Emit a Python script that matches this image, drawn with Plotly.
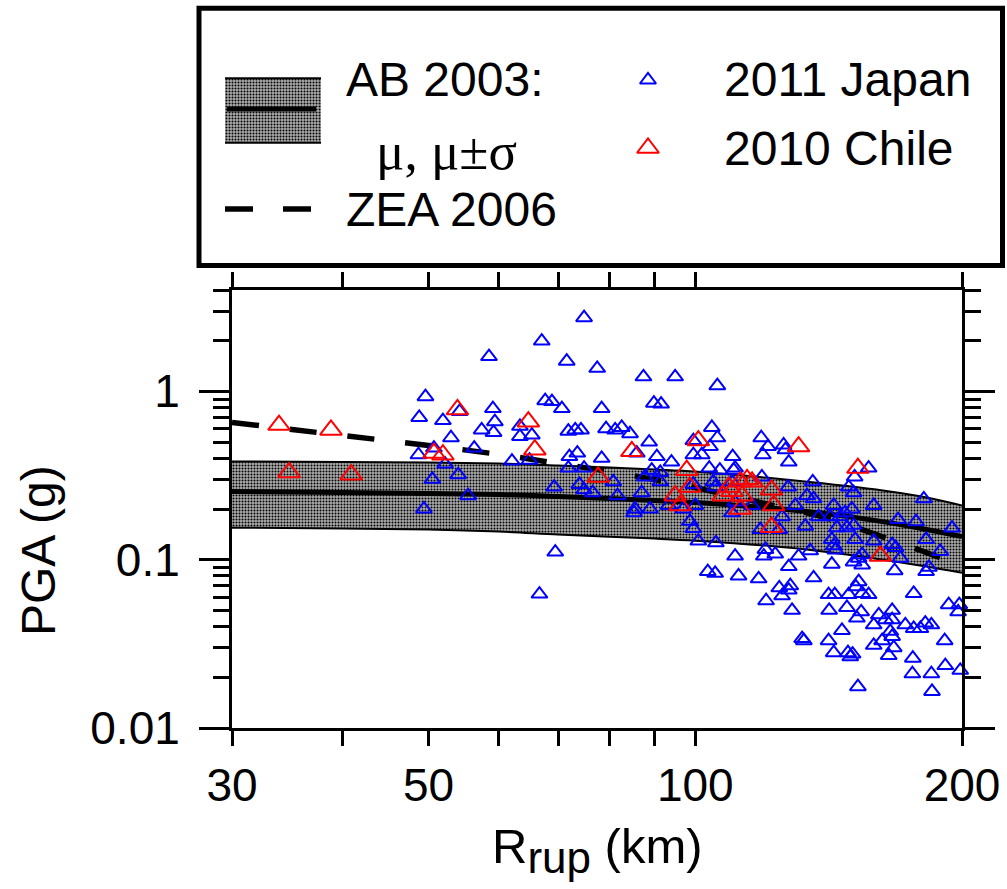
import plotly.graph_objects as go

# ---------------------------------------------------------------------------
# Recorded peak ground accelerations versus rupture distance
# ---------------------------------------------------------------------------
japan_r = [
    49.6, 48.8, 51.9, 54.2, 53.0, 48.7, 50.7, 52.2, 56.3, 54.0, 50.5, 55.4, 49.4,
    74.9, 67.1, 58.5, 71.6, 77.5, 87.4, 94.9, 105.9, 67.7, 68.9, 70.7, 78.4,
    89.8, 91.5, 59.1, 59.4, 59.2, 57.4, 63.4, 63.4, 65.4, 71.9, 73.2, 74.3,
    79.3, 81.2, 82.6, 84.4, 104.4, 105.9, 99.5, 103.9, 88.7, 85.9, 99.5, 101.7,
    62.1, 65.0, 72.1, 73.6, 78.4, 90.5, 94.0, 103.7, 106.6, 71.9, 74.9, 80.8,
    74.0, 76.6, 74.9, 69.3, 81.7, 87.0, 87.7, 91.3, 91.3, 89.3, 99.5, 104.8,
    105.3, 100.0, 88.9, 85.5, 96.9,
    118.7, 120.8, 119.2, 125.8, 126.4, 127.5, 110.2, 110.9, 110.5, 118.9, 156.9,
    151.3, 149.0, 150.9, 127.3, 135.7, 133.7, 136.0, 143.3, 129.7, 181.1, 159.0,
    150.2, 115.9, 110.9, 110.0,
    110.9, 120.0, 119.5, 123.1, 130.8, 134.8, 127.5, 142.6, 111.9, 117.9, 136.0,
    124.4, 128.0, 127.5, 125.3, 120.2, 128.6, 132.6, 132.0, 141.4, 143.3, 148.7,
    149.6, 150.5, 146.4, 141.4, 143.7, 141.6, 148.3, 149.0, 152.9, 151.8, 154.3,
    156.9, 153.9, 152.2, 159.0, 161.1, 163.9, 166.8, 166.8, 166.0, 166.8, 162.5,
    159.0, 167.5, 165.3, 172.6, 176.4, 179.5, 181.8, 184.7, 191.2, 176.0, 191.5,
    199.1, 175.8, 184.7, 185.0, 152.6, 181.1, 193.2, 198.6, 198.0, 176.4, 182.2,
    183.5, 167.9, 152.9, 154.3, 150.9, 169.4, 177.5, 182.2, 189.0, 194.9, 170.4,
    166.8, 168.3, 159.0, 137.8, 142.0, 145.7, 147.6, 150.9, 148.3, 144.5, 151.5,
    142.6, 143.3, 143.9, 133.1, 125.3, 124.4, 118.4, 110.0, 154.3,
    69.5, 66.7, 103.3, 105.3, 100.8, 105.5, 98.6, 99.5, 85.3, 93.3,
]
japan_pga = [
    0.93, 0.70, 0.67, 0.76, 0.53, 0.42, 0.46, 0.37, 0.46, 0.32, 0.30, 0.24, 0.20,
    2.74, 1.99, 1.61, 1.51, 1.37, 1.22, 1.22, 1.08, 0.88, 0.87, 0.79, 0.79,
    0.85, 0.84, 0.79, 0.66, 0.57, 0.59, 0.62, 0.54, 0.55, 0.58, 0.59, 0.59,
    0.60, 0.59, 0.61, 0.56, 0.61, 0.53, 0.51, 0.47, 0.50, 0.43, 0.42, 0.42,
    0.385, 0.39, 0.41, 0.43, 0.40, 0.41, 0.38, 0.35, 0.34, 0.35, 0.35, 0.29,
    0.28, 0.25, 0.26, 0.27, 0.24, 0.25, 0.31, 0.33, 0.29, 0.34, 0.28, 0.29,
    0.27, 0.21, 0.20, 0.20, 0.20,
    0.53, 0.47, 0.42, 0.48, 0.45, 0.38, 0.41, 0.35, 0.34, 0.31, 0.35,
    0.31, 0.27, 0.25, 0.27, 0.29, 0.24, 0.23, 0.21, 0.21, 0.23, 0.21,
    0.20, 0.21, 0.22, 0.29,
    0.105, 0.115, 0.105, 0.108, 0.105, 0.113, 0.091, 0.094, 0.080, 0.077, 0.078,
    0.068, 0.070, 0.066, 0.061, 0.057, 0.050, 0.033, 0.034, 0.033, 0.028, 0.028,
    0.0265, 0.0275, 0.038, 0.062, 0.062, 0.050, 0.052, 0.062, 0.074, 0.069, 0.063,
    0.062, 0.049, 0.045, 0.041, 0.047, 0.044, 0.050, 0.044, 0.0375, 0.035, 0.033,
    0.031, 0.030, 0.027, 0.041, 0.039, 0.039, 0.042, 0.041, 0.033, 0.026, 0.0235,
    0.022, 0.021, 0.021, 0.0165, 0.0176, 0.0099, 0.054, 0.054, 0.049, 0.063, 0.085,
    0.090, 0.086, 0.102, 0.093, 0.097, 0.173, 0.168, 0.132, 0.112, 0.154, 0.102,
    0.123, 0.118, 0.129, 0.18, 0.18, 0.18, 0.19, 0.16, 0.155, 0.155, 0.132,
    0.132, 0.121, 0.114, 0.158, 0.18, 0.151, 0.151, 0.19, 0.107,
    0.111, 0.0625, 0.085, 0.083, 0.129, 0.126, 0.169, 0.153, 0.19, 0.21,
]
chile_r = [
    33.9, 38.8, 34.8, 40.9, 53.9, 50.7, 51.9,
    64.8, 65.9, 77.7, 84.8, 100.8, 97.8, 98.6, 94.9, 96.1, 107.5,
    130.8, 152.6, 121.9, 112.4, 114.4, 115.9, 110.0, 112.9, 109.1,
    112.4, 122.6, 121.9, 161.8,
]
chile_pga = [
    0.63, 0.59, 0.33, 0.32, 0.78, 0.43, 0.42,
    0.66, 0.45, 0.31, 0.44, 0.51, 0.34, 0.27, 0.24, 0.21, 0.24,
    0.47, 0.35, 0.26, 0.29, 0.30, 0.29, 0.255, 0.24, 0.27,
    0.20, 0.21, 0.156, 0.105,
]

# ---------------------------------------------------------------------------
# Ground-motion prediction curves
# ---------------------------------------------------------------------------
model_r = [30, 40, 50, 60, 70, 80, 90, 100, 120, 140, 160, 180, 200]
ab03_mean = [0.254, 0.2505, 0.247, 0.2436, 0.237, 0.2307, 0.2245, 0.2184,
             0.204, 0.1878, 0.1706, 0.153, 0.137]
ab03_plus = [0.383, 0.3805, 0.378, 0.3727, 0.3626, 0.3528, 0.3433, 0.334,
             0.3076, 0.2835, 0.261, 0.237, 0.2096]
ab03_minus = [0.155, 0.153, 0.151, 0.1468, 0.1409, 0.137, 0.1334, 0.1297,
              0.1212, 0.1116, 0.1014, 0.0921, 0.0837]
zea06 = [0.654, 0.547, 0.477, 0.422, 0.373, 0.334, 0.299, 0.268,
         0.215, 0.178, 0.141, 0.113, 0.092]

# ---------------------------------------------------------------------------
# Axis ticks
# ---------------------------------------------------------------------------
x_tick_vals = [30, 50, 100, 200]
x_tick_text = ["30", "50", "100", "200"]
x_minor_vals = [40, 60, 70, 80, 90]
y_tick_vals = [0.01, 0.1, 1]
y_tick_text = ["0.01", "0.1", "1"]
y_minor_vals = [0.02, 0.03, 0.04, 0.05, 0.06, 0.07, 0.08, 0.09,
                0.2, 0.3, 0.4, 0.5, 0.6, 0.7, 0.8, 0.9, 2, 3, 4]

# ---------------------------------------------------------------------------
# Page geometry (pixels)
# ---------------------------------------------------------------------------
W, H = 1007, 889
FRAME_L, FRAME_R, FRAME_T, FRAME_B = 232, 962, 290, 728

SANS = "Liberation Sans, Arial, sans-serif"
SERIF = "Liberation Serif, Times New Roman, serif"
STIPPLE = dict(shape=".", fgcolor="black", bgcolor="#adadad", size=3, solidity=0.36)

fig = go.Figure()

# --- AB 2003 band: mu - sigma, mu + sigma and the median -------------------
fig.add_trace(go.Scatter(
    x=model_r, y=ab03_minus, mode="lines",
    line=dict(color="black", width=2, shape="spline"),
    hoverinfo="skip"))
fig.add_trace(go.Scatter(
    x=model_r, y=ab03_plus, mode="lines",
    line=dict(color="black", width=2, shape="spline"),
    fill="tonexty", fillcolor="#8c8c8c", fillpattern=STIPPLE,
    hoverinfo="skip"))
fig.add_trace(go.Scatter(
    x=model_r, y=ab03_mean, mode="lines",
    line=dict(color="black", width=5, shape="spline")))

# --- ZEA 2006 ---------------------------------------------------------------
fig.add_trace(go.Scatter(
    x=model_r, y=zea06, mode="lines",
    line=dict(color="black", width=5.5, dash="27px,31px", shape="spline")))

# --- records ----------------------------------------------------------------
fig.add_trace(go.Scatter(
    x=japan_r, y=japan_pga, mode="markers", cliponaxis=False,
    marker=dict(symbol="triangle-up-open", size=14, color="#0000ff",
                line=dict(width=2, color="#0000ff"))))
fig.add_trace(go.Scatter(
    x=chile_r, y=chile_pga, mode="markers", cliponaxis=False,
    marker=dict(symbol="triangle-up-open", size=19, color="#ff0000",
                line=dict(width=2, color="#ff0000"))))

# --- key drawn on a pixel canvas spanning the page ----------------------------
canvas = dict(xaxis="x2", yaxis="y2", hoverinfo="skip", showlegend=False)
fig.add_trace(go.Scatter(
    x=[225, 321, 321, 225, 225], y=[78, 78, 143, 143, 78], mode="lines",
    line=dict(width=0, color="rgba(0,0,0,0)"), fill="toself",
    fillcolor="#8c8c8c", fillpattern=STIPPLE, **canvas))
fig.add_trace(go.Scatter(x=[225, 321], y=[78.3, 78.3], mode="lines",
                         line=dict(color="black", width=2), **canvas))
fig.add_trace(go.Scatter(x=[225, 321], y=[142.8, 142.8], mode="lines",
                         line=dict(color="black", width=2), **canvas))
fig.add_trace(go.Scatter(x=[227, 316], y=[109, 109], mode="lines",
                         line=dict(color="black", width=5), **canvas))
fig.add_trace(go.Scatter(x=[225, 311], y=[209, 209], mode="lines",
                         line=dict(color="black", width=5.5, dash="28px,30px"),
                         **canvas))
fig.add_trace(go.Scatter(x=[648], y=[80], mode="markers",
                         marker=dict(symbol="triangle-up-open", size=14,
                                     color="#0000ff",
                                     line=dict(width=2, color="#0000ff")),
                         **canvas))
fig.add_trace(go.Scatter(x=[648], y=[148], mode="markers",
                         marker=dict(symbol="triangle-up-open", size=19,
                                     color="#ff0000",
                                     line=dict(width=2, color="#ff0000")),
                         **canvas))

for tr in fig.data:
    if tr.showlegend is None:
        tr.showlegend = False

key_texts = [
    ("AB 2003:", 344, 79, SANS, 48),
    ("\u03bc, \u03bc\u00b1\u03c3", 374, 151, SERIF, 53),
    ("ZEA 2006", 344, 209, SANS, 48),
    ("2011 Japan", 722, 79, SANS, 48),
    ("2010 Chile", 722, 148, SANS, 48),
]
annotations = []
for txt, ax_, ay_, fam, fs in key_texts:
    annotations.append(dict(
        text=txt, x=ax_, y=ay_, xref="x2", yref="y2", showarrow=False,
        xanchor="left", yanchor="middle",
        font=dict(family=fam, size=fs, color="black")))

# axis titles
annotations.append(dict(
    text="R<sub><span style='font-size:44px'>rup</span></sub> (km)",
    x=597, y=850, xref="x2", yref="y2",
    showarrow=False, xanchor="center", yanchor="middle",
    font=dict(family=SANS, size=49, color="black")))
annotations.append(dict(
    text="PGA (g)", x=38, y=551, xref="x2", yref="y2", textangle=-90,
    showarrow=False, xanchor="center", yanchor="middle",
    font=dict(family=SANS, size=48, color="black")))

axis_common = dict(
    type="log", showgrid=False, zeroline=False, automargin=False,
    showline=True, linecolor="black", linewidth=3,
    ticks="outside", tickcolor="black", tickwidth=3,
    mirror="ticks",
    tickfont=dict(family=SANS, size=46, color="black"),
)

fig.update_layout(
    template="none",
    width=W, height=H,
    margin=dict(l=0, r=0, t=0, b=0, autoexpand=False),
    paper_bgcolor="white", plot_bgcolor="rgba(0,0,0,0)",
    showlegend=False,
    font=dict(family=SANS, color="black"),
    xaxis=dict(
        **axis_common,
        domain=[FRAME_L / W, FRAME_R / W],
        range=[1.4771213, 2.30103],
        tickvals=x_tick_vals, ticktext=x_tick_text, ticklen=15,
        minor=dict(tickvals=x_minor_vals, ticks="outside", ticklen=15,
                   tickwidth=3, tickcolor="black", showgrid=False),
        anchor="y",
    ),
    yaxis=dict(
        **axis_common,
        domain=[(H - FRAME_B) / H, (H - FRAME_T) / H],
        range=[-2, 0.60206],
        tickvals=y_tick_vals, ticktext=y_tick_text, ticklen=30,
        ticklabelstandoff=10,
        minor=dict(tickvals=y_minor_vals, ticks="outside", ticklen=16,
                   tickwidth=3, tickcolor="black", showgrid=False),
        anchor="x",
    ),
    xaxis2=dict(domain=[0, 1], range=[0, W], visible=False, anchor="y2",
                automargin=False, fixedrange=True),
    yaxis2=dict(domain=[0, 1], range=[H, 0], visible=False, anchor="x2",
                automargin=False, fixedrange=True),
    shapes=[dict(type="rect", xref="x2", yref="y2",
                 x0=199, x1=1002.5, y0=8.3, y1=265.5,
                 line=dict(color="black", width=5), fillcolor="rgba(0,0,0,0)")],
    annotations=annotations,
)

fig.write_html("out.html")
